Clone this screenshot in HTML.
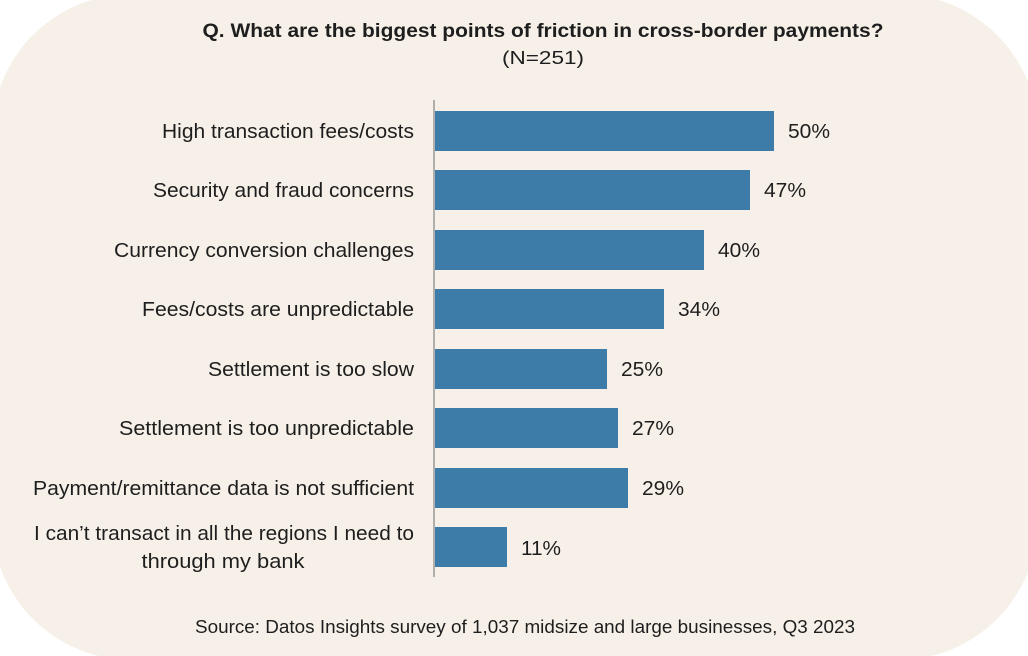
<!DOCTYPE html>
<html><head><style>
body{margin:0;width:1028px;height:656px;background:#fff;overflow:hidden}
svg{display:block}
text{font-family:"Liberation Sans",sans-serif;fill:#1e1e1e}
</style></head><body>
<svg width="1028" height="656" viewBox="0 0 1028 656">
<rect x="-8" y="-6" width="1046" height="666" rx="140" ry="140" fill="#f6f0e8"/>
<text x="543" y="37" font-size="19" font-weight="bold" text-anchor="middle" textLength="681" lengthAdjust="spacingAndGlyphs" fill="#111">Q. What are the biggest points of friction in cross-border payments?</text>
<text x="543" y="64" font-size="18" text-anchor="middle" textLength="82" lengthAdjust="spacingAndGlyphs">(N=251)</text>
<line x1="434" y1="100" x2="434" y2="577" stroke="#999" stroke-width="1.5"/>
<g fill="#3d7ca8">
<rect x="435" y="111" width="339" height="40"/>
<rect x="435" y="170" width="315" height="40"/>
<rect x="435" y="230" width="269" height="40"/>
<rect x="435" y="289" width="229" height="40"/>
<rect x="435" y="349" width="172" height="40"/>
<rect x="435" y="408" width="183" height="40"/>
<rect x="435" y="468" width="193" height="40"/>
<rect x="435" y="527" width="72" height="40"/>
</g>
<g font-size="20" text-anchor="end">
<text x="414" y="138" textLength="252" lengthAdjust="spacingAndGlyphs">High transaction fees/costs</text>
<text x="414" y="197" textLength="261" lengthAdjust="spacingAndGlyphs">Security and fraud concerns</text>
<text x="414" y="257" textLength="300" lengthAdjust="spacingAndGlyphs">Currency conversion challenges</text>
<text x="414" y="316" textLength="272" lengthAdjust="spacingAndGlyphs">Fees/costs are unpredictable</text>
<text x="414" y="376" textLength="206" lengthAdjust="spacingAndGlyphs">Settlement is too slow</text>
<text x="414" y="435" textLength="295" lengthAdjust="spacingAndGlyphs">Settlement is too unpredictable</text>
<text x="414" y="495" textLength="381" lengthAdjust="spacingAndGlyphs">Payment/remittance data is not sufficient</text>
<text x="414" y="540" textLength="380" lengthAdjust="spacingAndGlyphs">I can’t transact in all the regions I need to</text>
</g>
<text x="223" y="568" font-size="20" text-anchor="middle" textLength="163" lengthAdjust="spacingAndGlyphs">through my bank</text>
<g font-size="20">
<text x="788" y="138" textLength="42" lengthAdjust="spacingAndGlyphs">50%</text>
<text x="764" y="197" textLength="42" lengthAdjust="spacingAndGlyphs">47%</text>
<text x="718" y="257" textLength="42" lengthAdjust="spacingAndGlyphs">40%</text>
<text x="678" y="316" textLength="42" lengthAdjust="spacingAndGlyphs">34%</text>
<text x="621" y="376" textLength="42" lengthAdjust="spacingAndGlyphs">25%</text>
<text x="632" y="435" textLength="42" lengthAdjust="spacingAndGlyphs">27%</text>
<text x="642" y="495" textLength="42" lengthAdjust="spacingAndGlyphs">29%</text>
<text x="521" y="555" textLength="40" lengthAdjust="spacingAndGlyphs">11%</text>
</g>
<text x="525" y="633" font-size="18" text-anchor="middle" textLength="660" lengthAdjust="spacingAndGlyphs">Source: Datos Insights survey of 1,037 midsize and large businesses, Q3 2023</text>
</svg>
</body></html>
